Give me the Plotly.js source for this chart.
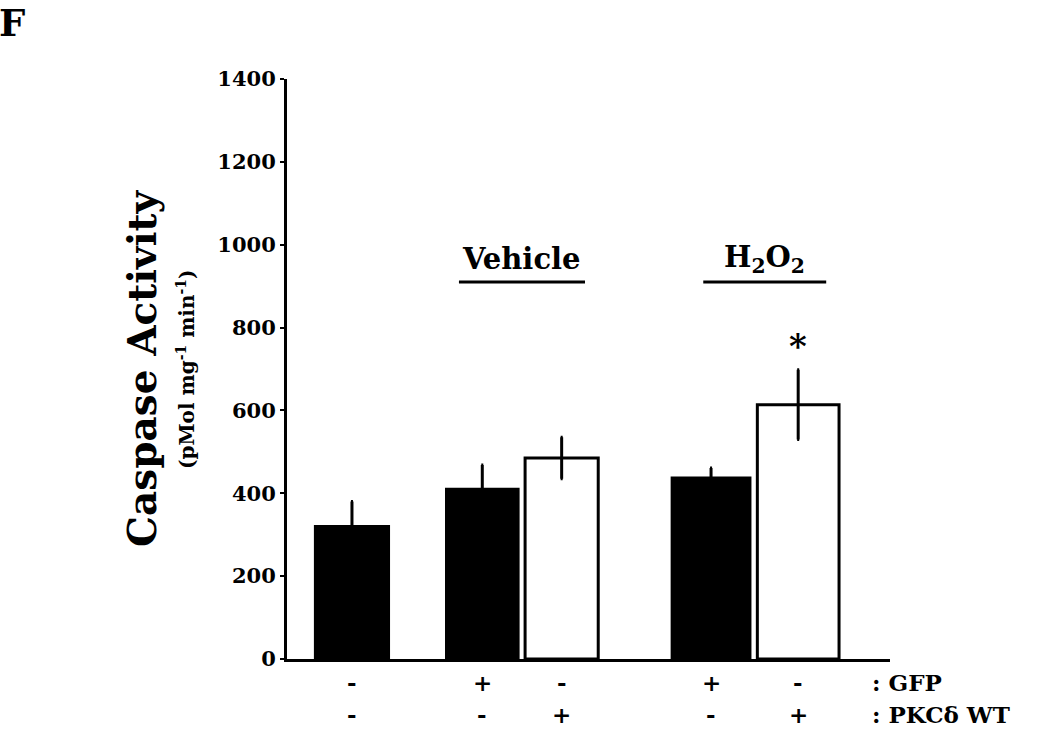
<!DOCTYPE html>
<html>
<head>
<meta charset="utf-8">
<script src="https://cdn.plot.ly/plotly-3.0.1.min.js"></script>
<style>html,body{margin:0;padding:0;background:#fff;}#chart{width:1050px;height:729px;}</style>
</head>
<body>
<div id="chart"></div>
<script>
// ---- data ----
const groups = ['Control', 'Vehicle GFP', 'Vehicle PKCδ WT', 'H2O2 GFP', 'H2O2 PKCδ WT'];
const caspase = [320, 410, 485, 437, 614];
const caspaseErr = [60, 58, 50, 24, 84];
const gfpSigns = ['-', '+', '-', '+', '-'];
const pkcSigns = ['-', '-', '+', '-', '+'];
const barFill = ['#000000', '#000000', '#ffffff', '#000000', '#ffffff'];
const yTicks = [0, 200, 400, 600, 800, 1000, 1200, 1400];

// layout positions of the bars along the x axis (axis units)
const xPos = [0.835, 2.51, 3.53, 5.45, 6.57];
const barWidth = [0.94, 0.92, 0.94, 1.0, 1.05];

const serif = '"DejaVu Serif", "Liberation Serif", serif';

const trace = {
  type: 'bar',
  x: xPos,
  y: caspase,
  width: barWidth,
  text: groups,
  hoverinfo: 'text+y',
  textposition: 'none',
  marker: {color: barFill, line: {color: '#000', width: 3}},
  error_y: {type: 'data', array: caspaseErr, visible: true, color: '#000', thickness: 3, width: 1}
};

const annotations = [];
const fontRow = {family: serif, size: 23, color: '#000'};
for (let i = 0; i < groups.length; i++) {
  annotations.push({x: xPos[i], y: 0, xref: 'x', yref: 'y', text: '<b>' + gfpSigns[i] + '</b>', showarrow: false, yanchor: 'middle', yshift: -23, borderpad: 0, font: fontRow});
  annotations.push({x: xPos[i], y: 0, xref: 'x', yref: 'y', text: '<b>' + pkcSigns[i] + '</b>', showarrow: false, yanchor: 'middle', yshift: -55, borderpad: 0, font: fontRow});
}
annotations.push({x: 7.5, y: 0, xref: 'x', yref: 'y', text: '<b>: GFP</b>', showarrow: false, xanchor: 'left', yanchor: 'middle', yshift: -23, borderpad: 0, font: fontRow});
annotations.push({x: 7.5, y: 0, xref: 'x', yref: 'y', text: '<b>: PKCδ WT</b>', showarrow: false, xanchor: 'left', yanchor: 'middle', yshift: -55, borderpad: 0, font: {family: serif, size: 23, color: '#000'}});
// asterisk
annotations.push({x: xPos[4], y: caspase[4] + caspaseErr[4], xref: 'x', yref: 'y', text: '<b>*</b>', showarrow: false, yanchor: 'bottom', yshift: 2, font: {family: serif, size: 34, color: '#000'}});
// group labels
annotations.push({x: (xPos[1] + xPos[2]) / 2, y: 965, xref: 'x', yref: 'y', text: '<b>Vehicle</b>', showarrow: false, yanchor: 'middle', font: {family: serif, size: 29, color: '#000'}});
annotations.push({x: 6.14, y: 965, xref: 'x', yref: 'y', text: '<b>H<sub>2</sub>O<sub>2</sub></b>', showarrow: false, yanchor: 'middle', font: {family: serif, size: 29, color: '#000'}});
// y titles
annotations.push({x: 0, y: 0.5, xref: 'paper', yref: 'paper', xshift: -170, text: '<b>Caspase Activity</b>', textangle: -90, showarrow: false, font: {family: serif, size: 39, color: '#000'}});
annotations.push({x: 0, y: 0.5, xref: 'paper', yref: 'paper', xshift: -116, text: '<b>(pMol mg<sup>-1</sup> min<sup>-1</sup>)</b>', textangle: -90, showarrow: false, font: {family: serif, size: 20, color: '#000'}});
// panel letter
annotations.push({x: 0, y: 1, xref: 'paper', yref: 'paper', xshift: -289, yshift: 79, xanchor: 'left', yanchor: 'top', borderpad: 0, text: '<b>F</b>', showarrow: false, font: {family: serif, size: 37, color: '#000'}});

const shapes = [
  {type: 'line', xref: 'x', yref: 'y', x0: xPos[1] - 0.3, x1: xPos[2] + 0.3, y0: 910, y1: 910, line: {color: '#000', width: 3}},
  {type: 'line', xref: 'x', yref: 'y', x0: xPos[3] - 0.1, x1: xPos[4] + 0.36, y0: 910, y1: 910, line: {color: '#000', width: 3}}
];

const layout = {
  width: 1050, height: 729,
  margin: {l: 287, r: 160, t: 79, b: 70},
  paper_bgcolor: '#fff', plot_bgcolor: '#fff',
  showlegend: false,
  bargap: 0,
  xaxis: {range: [0, 7.75], showticklabels: false, ticks: '', showgrid: false, zeroline: false,
          showline: true, linecolor: '#000', linewidth: 3, fixedrange: true},
  yaxis: {range: [0, 1400], tickvals: yTicks, ticktext: yTicks.map(v => '<b>' + v + '</b>'),
          ticks: 'outside', ticklen: 4, tickwidth: 2, tickcolor: '#000', showgrid: false, zeroline: false,
          showline: true, linecolor: '#000', linewidth: 3, tickfont: {family: serif, size: 21, color: '#000'}, fixedrange: true},
  annotations: annotations,
  shapes: shapes
};

Plotly.newPlot('chart', [trace], layout, {displayModeBar: false, staticPlot: true});
</script>
</body>
</html>
